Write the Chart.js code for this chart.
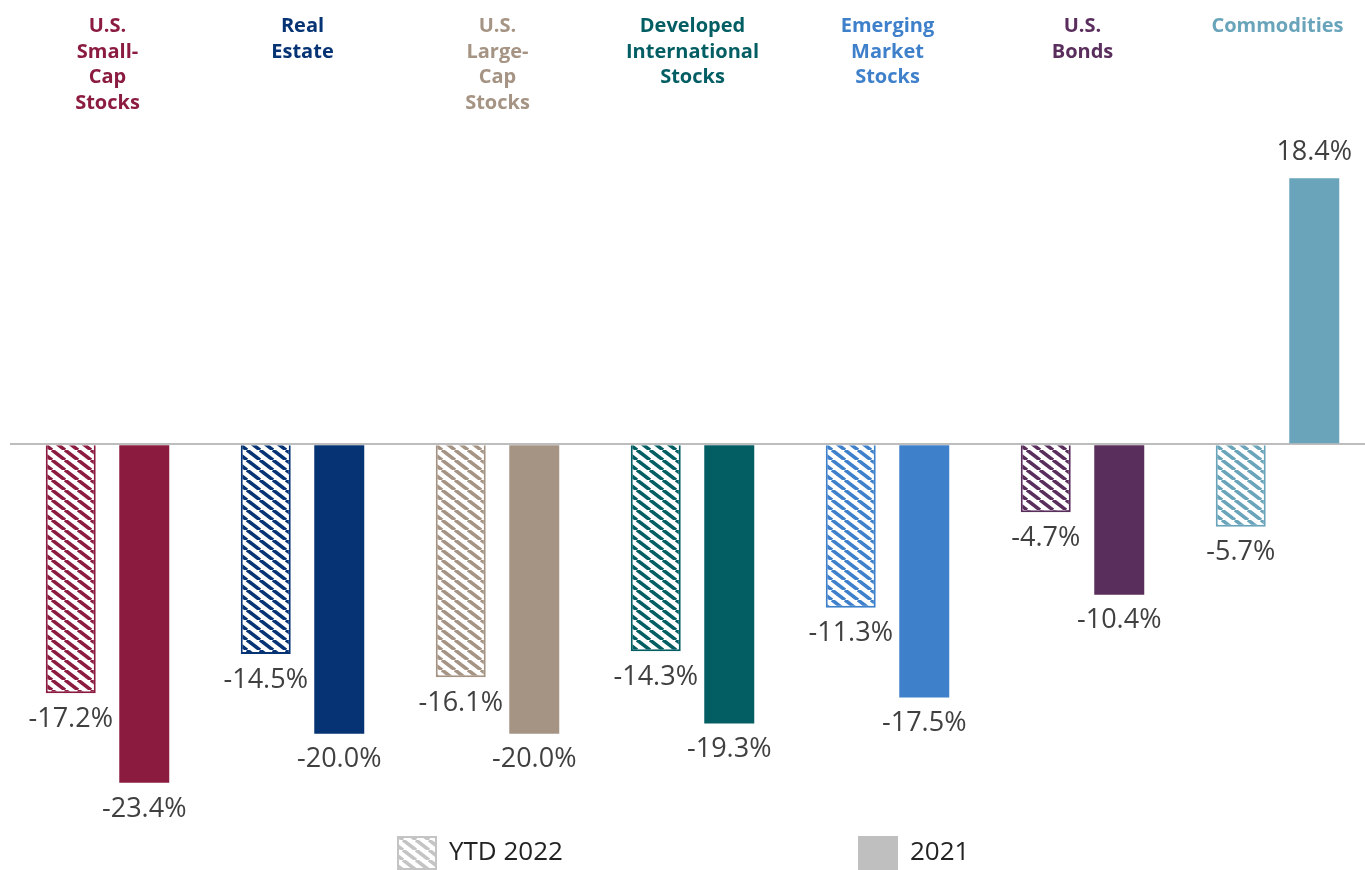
<!DOCTYPE html>
<html>
<head>
<meta charset="utf-8">
<script src="https://cdn.jsdelivr.net/npm/chart.js@4.4.1/dist/chart.umd.min.js"></script>
<style>
  html, body { margin: 0; padding: 0; background: #fff; overflow: hidden; }
  canvas { display: block; }
</style>
</head>
<body>
<canvas id="assetChart" width="1375" height="870"></canvas>
<script>
const categories = [
    ['U.S.', 'Small-', 'Cap', 'Stocks'],
    ['Real', 'Estate'],
    ['U.S.', 'Large-', 'Cap', 'Stocks'],
    ['Developed', 'International', 'Stocks'],
    ['Emerging', 'Market', 'Stocks'],
    ['U.S.', 'Bonds'],
    ['Commodities']
];
const seriesNames = ['YTD 2022', '2021'];
const ytd2022 = [-17.2, -14.5, -16.1, -14.3, -11.3, -4.7, -5.7];
const full2021 = [-23.4, -20.0, -20.0, -19.3, -17.5, -10.4, 18.4];
const colors = ['#8b1c3f', '#063373', '#a59383', '#035e64', '#3f80cb', '#5a2e5c', '#69a4bb'];

const ctx = document.getElementById('assetChart').getContext('2d');

// diagonal stripes, white gaps
function hatch(color) {
    const c = document.createElement('canvas');
    c.width = 13; c.height = 10;
    const g = c.getContext('2d');
    g.fillStyle = '#fff';
    g.fillRect(0, 0, 13, 10);
    g.strokeStyle = color;
    g.lineWidth = 3.6;
    for (const k of [-13, 0, 13]) {
        g.beginPath();
        g.moveTo(k, 0);
        g.lineTo(k + 13, 10);
        g.stroke();
    }
    return ctx.createPattern(c, 'repeat');
}

const valueLabels = {
    id: 'valueLabels',
    afterDatasetsDraw(chart) {
        const c = chart.ctx;
        c.save();
        c.font = '27px "Open Sans"';
        c.fillStyle = '#404040';
        c.textAlign = 'center';
        c.textBaseline = 'middle';
        chart.data.datasets.forEach((ds, i) => {
            chart.getDatasetMeta(i).data.forEach((bar, j) => {
                const v = ds.data[j];
                c.fillText(v.toFixed(1) + '%', bar.x, bar.y + (v < 0 ? 26 : -26));
            });
        });
        c.restore();
    }
};

// legend sits far apart, so drawn by hand
const wideLegend = {
    id: 'wideLegend',
    afterDraw(chart) {
        const c = chart.ctx;
        const y = chart.height - 17;
        const starts = [397, 858];
        const boxes = [hatch('#c4c4c4'), '#bfbfbf'];
        c.save();
        c.font = '26px "Open Sans"';
        c.textBaseline = 'middle';
        chart.data.datasets.forEach((ds, i) => {
            const x = starts[i];
            c.fillStyle = boxes[i];
            c.fillRect(x, y - 17, 40, 34);
            if (i === 0) {
                c.strokeStyle = '#c4c4c4';
                c.lineWidth = 2;
                c.strokeRect(x + 1, y - 16, 38, 32);
            }
            c.fillStyle = '#222';
            c.fillText(ds.label, x + 52, y);
        });
        c.restore();
    }
};

new Chart(ctx, {
    type: 'bar',
    data: {
        labels: categories,
        datasets: [
            {
                label: seriesNames[0],
                data: ytd2022,
                backgroundColor: colors.map(hatch),
                borderColor: colors,
                borderWidth: 2
            },
            {
                label: seriesNames[1],
                data: full2021,
                backgroundColor: colors,
                borderWidth: 0
            }
        ]
    },
    options: {
        responsive: false,
        animation: false,
        categoryPercentage: 0.754,
        barPercentage: 0.68,
        layout: { padding: { left: 10, right: 0, top: 0, bottom: 64 } },
        scales: {
            x: {
                position: 'top',
                grid: { display: false, drawTicks: false },
                border: { display: false },
                ticks: {
                    autoSkip: false,
                    maxRotation: 0,
                    padding: 39,
                    crossAlign: 'far',
                    color: (c) => colors[c.index],
                    font: { family: 'Open Sans', size: 20, weight: 'bold', lineHeight: 1.28 }
                },
                afterFit: (s) => {
                    s.height = 155;
                    // tick padding shouldn't squeeze the plot sideways
                    s.paddingLeft = 0;
                    s.paddingRight = 0;
                }
            },
            y: {
                min: -25,
                max: 20,
                ticks: { display: false },
                border: { display: false },
                grid: {
                    drawTicks: false,
                    lineWidth: 2,
                    color: (c) => c.tick && c.tick.value === 0 ? '#bdbdbd' : 'rgba(0,0,0,0)'
                }
            }
        },
        plugins: {
            legend: { display: false },
            tooltip: { enabled: false }
        }
    },
    plugins: [valueLabels, wideLegend]
});
</script>
</body>
</html>
